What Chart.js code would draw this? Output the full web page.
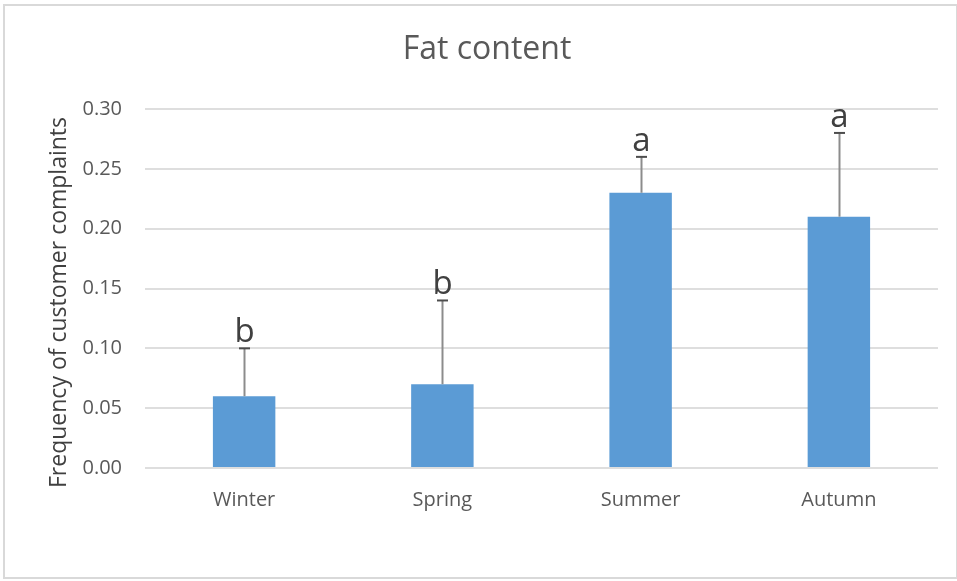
<!DOCTYPE html>
<html>
<head>
<meta charset="utf-8">
<script src="https://cdn.jsdelivr.net/npm/chart.js@4.4.1/dist/chart.umd.min.js"></script>
<style>
  html, body { margin: 0; padding: 0; background: #fff; }
  #wrap { position: absolute; left: 0; top: 0; width: 957px; height: 581px; }
</style>
</head>
<body>
<div id="wrap"><canvas id="fatChart" width="957" height="581"></canvas></div>
<script>
const seasons = ['Winter', 'Spring', 'Summer', 'Autumn'];
const complaints = [0.06, 0.07, 0.23, 0.21];
const errorUp = [0.04, 0.07, 0.03, 0.07];
const groupLetters = ['b', 'b', 'a', 'a'];
const chartTitle = 'Fat content';
const yTitle = 'Frequency of customer complaints';

const FONT = '"Open Sans", "DejaVu Sans", sans-serif';

// frame around the whole chart, like the exported office chart
const framePlugin = {
    id: 'frame',
    beforeDraw(chart) {
        const c = chart.ctx;
        c.save();
        c.fillStyle = '#fff';
        c.fillRect(0, 0, chart.width, chart.height);
        c.strokeStyle = '#d9d9d9';
        c.lineWidth = 2;
        c.strokeRect(4, 5, chart.width - 4, chart.height - 8);
        c.restore();
    }
};

// chart title and y axis title, placed where the original has them
const titlesPlugin = {
    id: 'titles',
    afterDraw(chart) {
        const c = chart.ctx;
        const area = chart.chartArea;
        c.save();
        c.fillStyle = '#595959';
        c.font = '32px ' + FONT;
        c.textAlign = 'center';
        c.textBaseline = 'middle';
        c.fillText(chartTitle, 487, 50);

        c.translate(59, (area.top + area.bottom) / 2 + 14);
        c.rotate(-Math.PI / 2);
        c.fillStyle = '#404040';
        c.font = '23px ' + FONT;
        c.fillText(yTitle, 0, 0);
        c.restore();
    }
};

// upward error bars with a cap, plus the significance letters
const errorPlugin = {
    id: 'errorBars',
    afterDatasetsDraw(chart) {
        const c = chart.ctx;
        const meta = chart.getDatasetMeta(0);
        const y = chart.scales.y;
        c.save();
        meta.data.forEach(function(bar, i) {
            const x = Math.round(bar.x) + 0.5;
            const top = y.getPixelForValue(complaints[i] + errorUp[i]);
            c.strokeStyle = '#8c8c8c';
            c.lineWidth = 2;
            c.beginPath();
            c.moveTo(x, bar.y);
            c.lineTo(x, top);
            c.stroke();
            c.strokeStyle = '#4d4d4d';
            c.beginPath();
            c.moveTo(x - 5.5, top);
            c.lineTo(x + 5.5, top);
            c.stroke();
            c.fillStyle = '#404040';
            c.font = '33px ' + FONT;
            c.textAlign = 'center';
            c.textBaseline = 'alphabetic';
            c.fillText(groupLetters[i], x, top - 6);
        });
        c.restore();
    }
};

const ctx = document.getElementById('fatChart').getContext('2d');
new Chart(ctx, {
    type: 'bar',
    data: {
        labels: seasons,
        datasets: [{
            label: chartTitle,
            data: complaints,
            backgroundColor: '#5b9bd5',
            borderWidth: 0,
            categoryPercentage: 1,
            barPercentage: 0.315
        }]
    },
    options: {
        responsive: false,
        animation: false,
        layout: { padding: { left: 0, right: 19, top: 109, bottom: 0 } },
        scales: {
            y: {
                min: 0,
                max: 0.3,
                border: { display: false },
                grid: { color: '#dedede', lineWidth: 2, drawTicks: false },
                ticks: {
                    stepSize: 0.05,
                    padding: 23,
                    color: '#595959',
                    font: { family: FONT, size: 20 },
                    callback: v => v.toFixed(2)
                },
                afterFit: s => { s.width = 145; }
            },
            x: {
                border: { display: false },
                grid: { display: false, drawTicks: false },
                ticks: {
                    padding: 20,
                    color: '#595959',
                    font: { family: FONT, size: 20 }
                },
                afterFit: s => { s.height = 113; }
            }
        },
        plugins: {
            legend: { display: false },
            tooltip: { enabled: false },
            title: { display: false }
        }
    },
    plugins: [framePlugin, errorPlugin, titlesPlugin]
});
</script>
</body>
</html>
